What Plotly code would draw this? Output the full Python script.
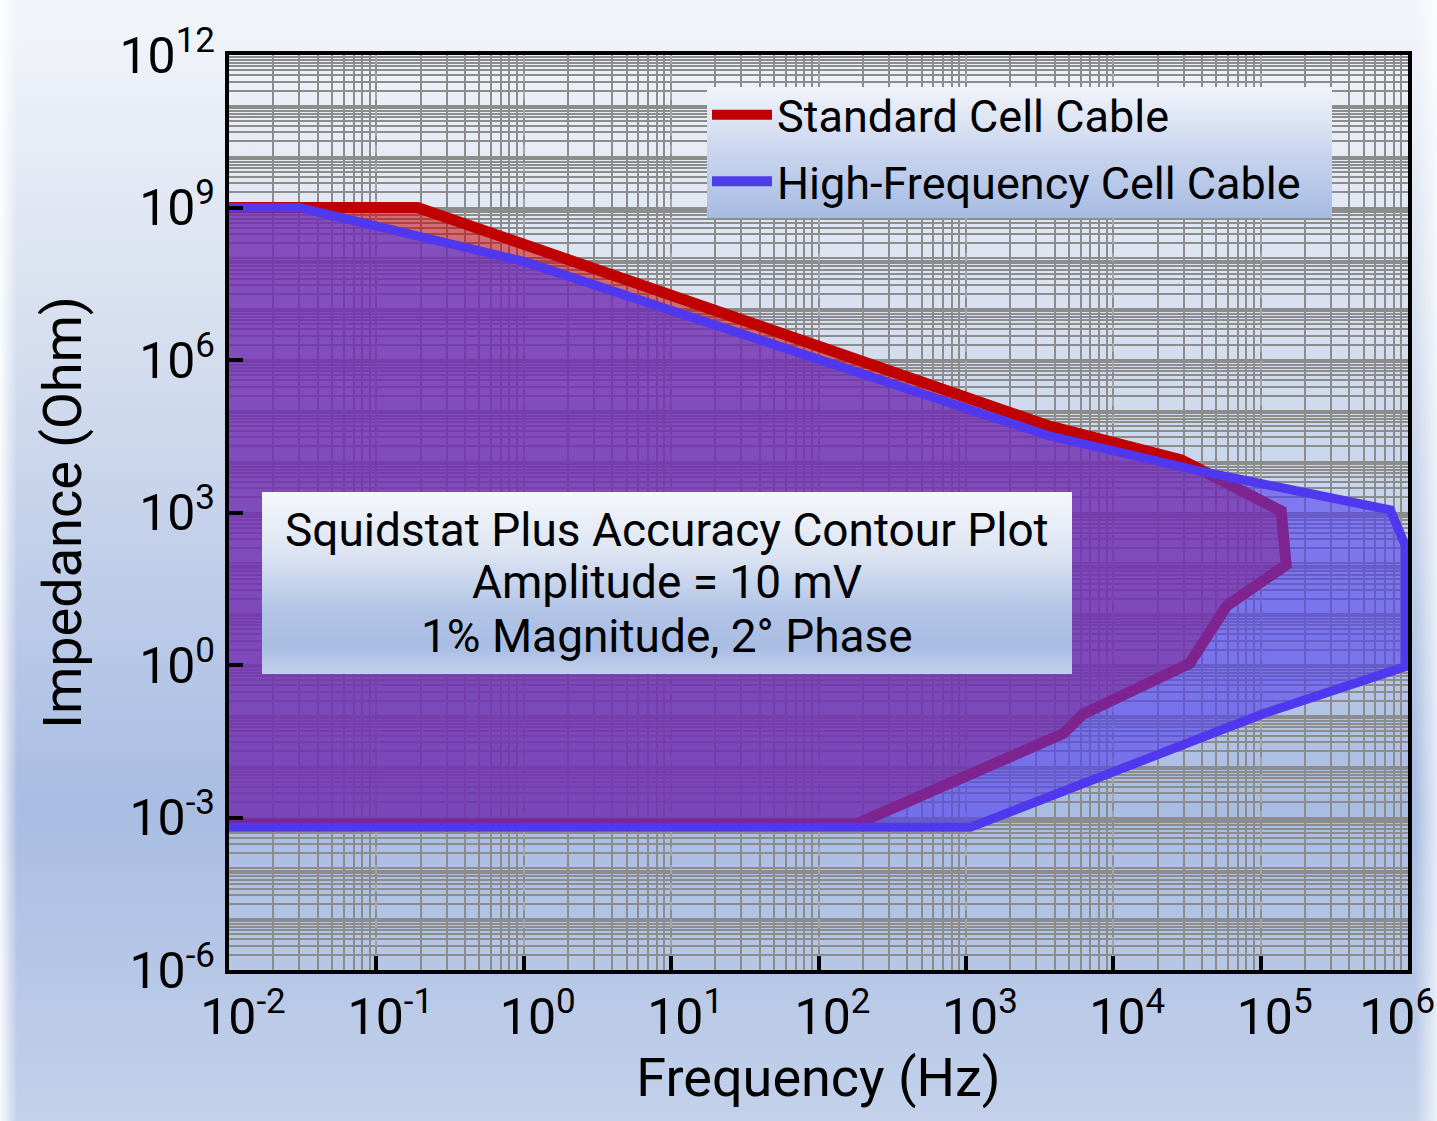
import base64
import plotly.graph_objects as go

# ---------------- data ----------------
std_freq = [0.01, 0.19, 3700, 29000, 138000, 149000, 59000, 33000, 6200, 4600, 180, 0.01]
std_imp = [1e9, 1e9, 5.0e4, 1.08e4, 1.07e3, 93, 14.7, 1.07, 0.107, 0.045, 7.4e-4, 7.4e-4]

hf_freq = [0.01, 0.03, 1.0, 3700, 39000, 760000, 960000, 960000, 104000, 1070, 0.01]
hf_imp = [1e9, 1e9, 8.7e7, 3.2e4, 6.5e3, 1.12e3, 220, 0.93, 0.11, 6.4e-4, 6.4e-4]

series_names = ["Standard Cell Cable", "High-Frequency Cell Cable"]

x_tick_vals = [1e-2, 1e-1, 1e0, 1e1, 1e2, 1e3, 1e4, 1e5, 1e6]
x_tick_text = ["10<sup>-2</sup>", "10<sup>-1</sup>", "10<sup>0</sup>", "10<sup>1</sup>",
               "10<sup>2</sup>", "10<sup>3</sup>", "10<sup>4</sup>", "10<sup>5</sup>",
               "10<sup>6</sup>\u00a0\u00a0\u00a0\u00a0"]
y_tick_vals = [1e-6, 1e-3, 1e0, 1e3, 1e6, 1e9, 1e12]
y_tick_text = ["10<sup>-6</sup>", "10<sup>-3</sup>", "10<sup>0</sup>", "10<sup>3</sup>",
               "10<sup>6</sup>", "10<sup>9</sup>", "10<sup>12</sup>"]

note_lines = ["Squidstat Plus Accuracy Contour Plot", "Amplitude = 10 mV", "1% Magnitude, 2° Phase"]

# ---------------- layout geometry ----------------
W, H = 1437, 1121
ML, MR, MT, MB = 229, 29, 55, 151
PW, PH = W - ML - MR, H - MT - MB


def px(x):
    return (x - ML) / PW


def py(y):
    return 1 - (y - MT) / PH


def svg_uri(svg):
    return "data:image/svg+xml;base64," + base64.b64encode(svg.encode("utf-8")).decode("ascii")


bg_svg = (
    '<svg xmlns="http://www.w3.org/2000/svg" width="1437" height="1121" preserveAspectRatio="none">'
    '<defs><linearGradient id="g" x1="0" y1="0" x2="0" y2="1">'
    '<stop offset="0" stop-color="#f3f5fa"/><stop offset="0.3" stop-color="#d6dfef"/>'
    '<stop offset="0.72" stop-color="#a9bde3"/><stop offset="1" stop-color="#c3d1ea"/></linearGradient>'
    '<linearGradient id="h" x1="0" y1="0" x2="1" y2="0">'
    '<stop offset="0" stop-color="#ffffff" stop-opacity="0.9"/>'
    '<stop offset="0.012" stop-color="#ffffff" stop-opacity="0"/>'
    '<stop offset="0.985" stop-color="#ffffff" stop-opacity="0"/>'
    '<stop offset="1" stop-color="#ffffff" stop-opacity="0.7"/></linearGradient></defs>'
    '<rect width="100%" height="100%" fill="url(#g)"/><rect width="100%" height="100%" fill="url(#h)"/></svg>'
)

legend_svg = (
    '<svg xmlns="http://www.w3.org/2000/svg" width="625" height="131" preserveAspectRatio="none">'
    '<defs><linearGradient id="g" x1="0" y1="0" x2="0" y2="1">'
    '<stop offset="0" stop-color="#f2f4fa"/><stop offset="0.5" stop-color="#c9d5ee"/>'
    '<stop offset="1" stop-color="#a6bbe2"/></linearGradient></defs>'
    '<rect width="100%" height="100%" fill="url(#g)"/></svg>'
)

note_svg = (
    '<svg xmlns="http://www.w3.org/2000/svg" width="810" height="182" preserveAspectRatio="none">'
    '<defs><linearGradient id="g" x1="0" y1="0" x2="0" y2="1">'
    '<stop offset="0" stop-color="#f6f7fb"/><stop offset="0.35" stop-color="#dbe3f2"/>'
    '<stop offset="0.65" stop-color="#b2c4e6"/><stop offset="0.85" stop-color="#a9bde3"/>'
    '<stop offset="1" stop-color="#c2d0ea"/></linearGradient></defs>'
    '<rect width="100%" height="100%" fill="url(#g)"/></svg>'
)

FONT = "Roboto"

fig = go.Figure()

# filled accuracy regions
fig.add_trace(go.Scatter(
    x=std_freq, y=std_imp, mode="lines", fill="toself",
    fillcolor="rgba(200,0,0,0.53)", line=dict(color="#c00000", width=11),
    showlegend=False, hoverinfo="skip", name=series_names[0]))
fig.add_trace(go.Scatter(
    x=hf_freq, y=hf_imp, mode="lines", fill="toself",
    fillcolor="rgba(80,60,240,0.6)", line=dict(color="#5038ee", width=9),
    showlegend=False, hoverinfo="skip", name=series_names[1]))

# legend entries (line only)
fig.add_trace(go.Scatter(x=[None], y=[None], mode="lines", name=series_names[0],
                         line=dict(color="#c00000", width=10), legendgroup="a"))
fig.add_trace(go.Scatter(x=[None], y=[None], mode="lines", name=series_names[1],
                         line=dict(color="#4f3de8", width=10), legendgroup="b"))

axis_common = dict(
    type="log", ticks="inside", ticklen=14, tickwidth=4, tickcolor="black",
    showline=True, linewidth=4, linecolor="black", mirror=True, zeroline=False,
    tickfont=dict(size=50, family=FONT, color="black"), ticklabeloverflow="allow",
)

fig.update_xaxes(
    **axis_common, range=[-2, 6], tickmode="array", tickvals=x_tick_vals, ticktext=x_tick_text,
    showgrid=True, gridcolor="#a4a4a4", gridwidth=2, griddash="dash",
    minor=dict(dtick="D1", showgrid=True, gridcolor="#8c8c8c", gridwidth=2,
               griddash="solid", ticks=""),
    ticklabelshift=14,
    title=dict(text="Frequency (Hz)", font=dict(size=54, family=FONT, color="black"), standoff=14),
)
fig.update_yaxes(
    **axis_common, range=[-6, 12], tickmode="array", tickvals=y_tick_vals, ticktext=y_tick_text,
    showgrid=True, gridcolor="#8c8c8c", gridwidth=2, griddash="solid",
    minor=dict(dtick="D1", showgrid=True, gridcolor="#8c8c8c", gridwidth=1.8,
               griddash="solid", ticks=""),
    title=dict(text="Impedance (Ohm)", font=dict(size=54, family=FONT, color="black"), standoff=22),
)

note_y = [530, 582, 636]

fig.update_layout(
    width=W, height=H,
    margin=dict(l=ML, r=MR, t=MT, b=MB, autoexpand=False),
    paper_bgcolor="#c8d5ec", plot_bgcolor="#efefef",
    font=dict(family=FONT, color="black"),
    legend=dict(x=px(707), y=py(79), xanchor="left", yanchor="top",
                bgcolor="rgba(0,0,0,0)", borderwidth=0,
                font=dict(size=45, family=FONT, color="black"),
                itemwidth=60, tracegroupgap=5, traceorder="grouped"),
    images=[
        dict(source=svg_uri(bg_svg), xref="paper", yref="paper", x=px(0), y=py(0),
             sizex=W / PW, sizey=H / PH, xanchor="left", yanchor="top",
             sizing="stretch", layer="below"),
        dict(source=svg_uri(legend_svg), xref="paper", yref="paper", x=px(707), y=py(87),
             sizex=625 / PW, sizey=131 / PH, xanchor="left", yanchor="top",
             sizing="stretch", layer="above"),
        dict(source=svg_uri(note_svg), xref="paper", yref="paper", x=px(262), y=py(492),
             sizex=810 / PW, sizey=182 / PH, xanchor="left", yanchor="top",
             sizing="stretch", layer="above"),
    ],
    annotations=[dict(
        text=line, xref="paper", yref="paper",
        x=px(667), y=py(yy), xanchor="center", yanchor="middle", showarrow=False,
        font=dict(size=46, family=FONT, color="black"), align="center")
        for line, yy in zip(note_lines, note_y)],
)

fig.write_html("out.html")
